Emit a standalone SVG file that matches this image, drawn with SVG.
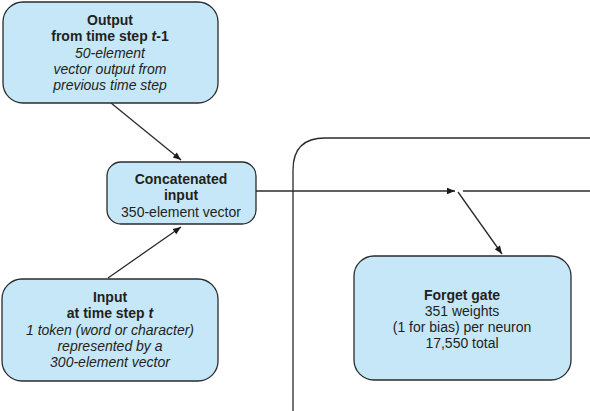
<svg xmlns="http://www.w3.org/2000/svg" width="590" height="411" viewBox="0 0 590 411">
<defs>
<style>
.box{fill:#c6e7f7;stroke:#2b2b2b;stroke-width:1.3}
.t{font-family:"Liberation Sans",Arial,sans-serif;font-size:14px;fill:#231f20;text-anchor:middle}
.b{font-weight:bold}
.i{font-style:italic}
.ln{stroke:#2b2b2b;stroke-width:1.3;fill:none}
</style>
<marker id="ah" viewBox="0 0 10 10" refX="10" refY="5" markerWidth="10" markerHeight="8" markerUnits="userSpaceOnUse" orient="auto">
<path d="M0,1 L10,5 L0,9 Z" fill="#1a1a1a"/>
</marker>
</defs>
<g id="container">
<path class="ln" d="M293,411 L293,170 Q293,138 325,138 L590,138"/>
</g>
<g id="connectors">
<line class="ln" x1="111" y1="103" x2="181" y2="160" marker-end="url(#ah)"/>
<line class="ln" x1="108" y1="278" x2="181" y2="227" marker-end="url(#ah)"/>
<line class="ln" x1="256" y1="191" x2="455" y2="191" marker-end="url(#ah)"/>
<line class="ln" x1="463" y1="191" x2="590" y2="191"/>
<line class="ln" x1="458" y1="192" x2="502" y2="254" marker-end="url(#ah)"/>
</g>
<g id="output">
<rect class="box" x="3" y="2" width="215" height="101" rx="20"/>
<text class="t b" x="110" y="25">Output</text>
<text class="t b" x="110" y="41">from time step <tspan class="i">t</tspan>-1</text>
<text class="t i" x="110" y="58">50-element</text>
<text class="t i" x="110" y="74">vector output from</text>
<text class="t i" x="110" y="90">previous time step</text>
</g>
<g id="concat">
<rect class="box" x="107" y="162" width="149" height="62" rx="14"/>
<text class="t b" x="181" y="184">Concatenated</text>
<text class="t b" x="181" y="200">input</text>
<text class="t" x="181" y="217">350-element vector</text>
</g>
<g id="input">
<rect class="box" x="2" y="279" width="216" height="102" rx="20"/>
<text class="t b" x="110" y="302">Input</text>
<text class="t b" x="110" y="318">at time step <tspan class="i">t</tspan></text>
<text class="t i" x="110" y="335">1 token (word or character)</text>
<text class="t i" x="110" y="351">represented by a</text>
<text class="t i" x="110" y="367">300-element vector</text>
</g>
<g id="forget">
<rect class="box" x="354" y="256" width="217" height="124" rx="20"/>
<text class="t b" x="462" y="300">Forget gate</text>
<text class="t" x="462" y="316">351 weights</text>
<text class="t" x="462" y="332">(1 for bias) per neuron</text>
<text class="t" x="462" y="348">17,550 total</text>
</g>
</svg>
